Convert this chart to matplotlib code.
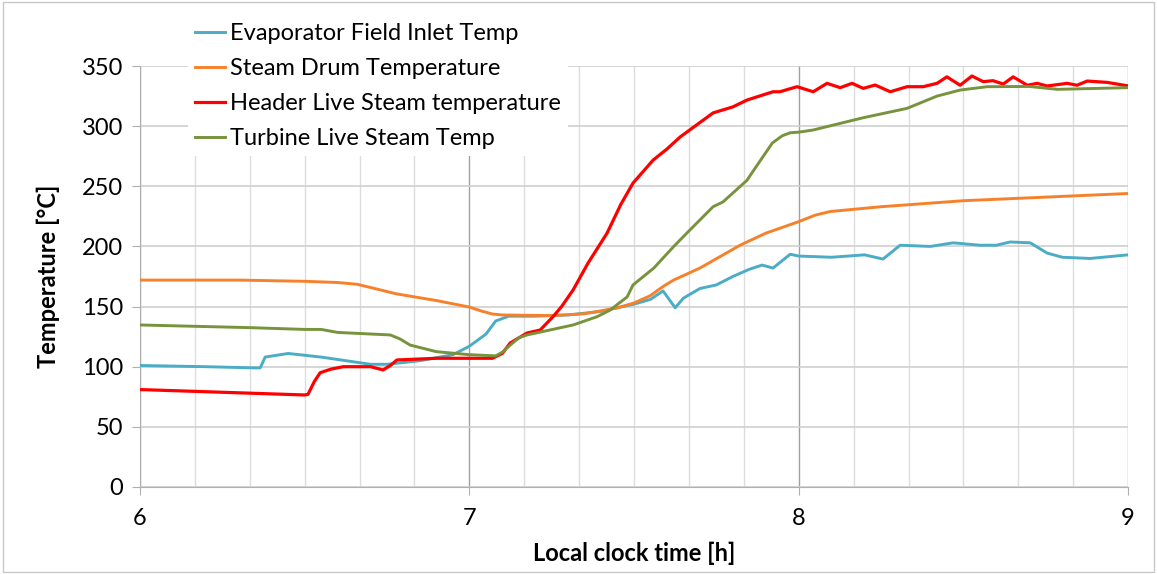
import matplotlib.pyplot as plt
from matplotlib.patches import Rectangle
import numpy as np

plt.rcParams['font.family'] = ['Lato', 'DejaVu Sans']

# Evaporator Field Inlet Temp
t_evap = [6.0, 6.2, 6.35, 6.365, 6.38, 6.45, 6.55, 6.6, 6.7, 6.75, 6.85, 6.95, 7.0,
          7.05, 7.08, 7.12, 7.2, 7.3, 7.4, 7.5, 7.55, 7.588, 7.625, 7.65, 7.7, 7.75,
          7.8, 7.85, 7.889, 7.922, 7.974, 8.0, 8.1, 8.2, 8.256, 8.308, 8.4, 8.469,
          8.55, 8.6, 8.642, 8.703, 8.754, 8.8, 8.885, 9.0]
v_evap = [101, 100, 99, 99, 108, 111, 108, 106, 102, 102, 105, 110, 117,
          127, 138, 142, 142, 143, 146, 152, 156, 163, 149, 157, 165, 168,
          175, 181, 184.5, 182, 193.5, 192, 191, 193, 189.5, 201, 200, 203,
          201, 201, 203.7, 203, 194.5, 191, 190, 193]

# Steam Drum Temperature
t_drum = [6.0, 6.3, 6.5, 6.6, 6.66, 6.72, 6.78, 6.9, 7.0, 7.04, 7.07, 7.1, 7.25, 7.35,
          7.45, 7.5, 7.549, 7.59, 7.62, 7.7, 7.822, 7.9, 8.0, 8.05, 8.095, 8.25,
          8.5, 8.75, 9.0]
v_drum = [172, 172, 171, 170, 168.5, 164.5, 160.5, 155, 149.6, 146, 143.8, 143, 142.5, 144,
          149, 153, 159, 167, 172, 182, 201, 211, 220.6, 226, 229, 233,
          238, 241, 244]

# Header Live Steam temperature
t_head = [6.0, 6.5, 6.51, 6.53, 6.547, 6.58, 6.617, 6.7, 6.738, 6.76, 6.78, 6.9, 7.0,
          7.07, 7.1, 7.124, 7.175, 7.215, 7.254, 7.28, 7.315, 7.36, 7.418, 7.46,
          7.497, 7.53, 7.558, 7.6, 7.64, 7.7, 7.74, 7.8, 7.843, 7.922, 7.943, 7.995,
          8.044, 8.086, 8.126, 8.162, 8.196, 8.232, 8.278, 8.329, 8.378, 8.42, 8.45,
          8.49, 8.526, 8.56, 8.59, 8.621, 8.651, 8.694, 8.724, 8.754, 8.815, 8.845,
          8.876, 8.936, 8.997]
v_head = [81, 76.5, 77, 88, 95, 98, 100, 100, 97.3, 101, 105.6, 107, 107,
          107, 111, 119.7, 128, 130.5, 141.6, 150, 163.8, 186, 211, 235,
          252.7, 263, 271.8, 281, 291, 303, 311, 316, 321.7, 328.6, 328.6, 332.8,
          328.6, 335.6, 332, 335.6, 331.4, 334.2, 328.6, 332.8, 332.8, 335.6, 341,
          334, 341.7, 337, 337.8, 335, 341, 334, 335.6, 333.4, 335.6, 334,
          337.5, 336.4, 333.6]

# Turbine Live Steam Temp
t_turb = [6.0, 6.33, 6.5, 6.55, 6.6, 6.76, 6.79, 6.82, 6.9, 7.0, 7.08, 7.1, 7.12, 7.15,
          7.175, 7.315, 7.388, 7.427, 7.479, 7.497, 7.56, 7.62, 7.66, 7.74, 7.77,
          7.843, 7.86, 7.92, 7.95, 7.974, 8.0, 8.044, 8.196, 8.329, 8.42, 8.49,
          8.572, 8.7, 8.785, 9.0]
v_turb = [134.7, 132.5, 131, 131, 128.5, 126.4, 123, 118, 112.5, 110, 109, 112, 117, 124,
          126.4, 134.7, 141.6, 147, 158, 168, 182, 199.8, 211, 233, 237,
          255, 262, 286, 292, 294.5, 295, 296.8, 307, 314.8, 325, 330,
          332.8, 333, 330.6, 332]

labels = ["Evaporator Field Inlet Temp", "Steam Drum Temperature",
          "Header Live Steam temperature", "Turbine Live Steam Temp"]
colors = ["#4BACC6", "#F7812A", "#FF0000", "#77933C"]

fig = plt.figure(figsize=(11.57, 5.74), dpi=100)
ax = fig.add_axes([0.121, 0.1516, 0.854, 0.7334])

series = [(t_evap, v_evap), (t_drum, v_drum), (t_head, v_head), (t_turb, v_turb)]
for (t, v), lab, c in zip(series, labels, colors):
    ax.plot(t, v, color=c, lw=2.3 if c == "#FF0000" else 2.1, label=lab, zorder=3,
            solid_joinstyle="round")

ax.set_xlim(6, 9)
ax.set_ylim(0, 350)
ax.set_xticks([6, 7, 8, 9])
ax.set_xticks(np.arange(6, 9.001, 1 / 6), minor=True)
ax.set_yticks(np.arange(0, 351, 50))

ax.grid(axis="y", which="major", color="#D0D0D0", lw=1.2)
ax.grid(axis="x", which="minor", color="#DDDDDD", lw=1.0)
ax.grid(axis="x", which="major", color="#A0A0A0", lw=1.0)
ax.set_axisbelow(True)

for s in ["top", "right"]:
    ax.spines[s].set_visible(False)
ax.spines["left"].set_color("#B0B0B0")
ax.spines["bottom"].set_color("#B0B0B0")
ax.tick_params(axis="both", which="major", labelsize=17, color="#B0B0B0", length=6)
ax.tick_params(axis="x", which="minor", length=0)
ax.tick_params(axis="x", pad=9)
ax.tick_params(axis="y", pad=6)

ax.set_xlabel("Local clock time [h]", fontsize=17, fontweight="bold", labelpad=9)
ax.set_ylabel("Temperature [°C]", fontsize=17, fontweight="bold", labelpad=16)

leg = fig.legend(loc="upper left", bbox_to_anchor=(0.152, 0.993), fontsize=17,
                 handlelength=1.3, handletextpad=0.2, labelspacing=0.6,
                 borderpad=0.3, fancybox=False, framealpha=1, edgecolor="white")
leg.get_frame().set_linewidth(0)

fig.patches.append(Rectangle((0.003, 0.003), 0.994, 0.994, transform=fig.transFigure,
                             fill=False, edgecolor="#C8C8C8", lw=1))

fig.savefig("out.png", dpi=100)
plt.close(fig)
